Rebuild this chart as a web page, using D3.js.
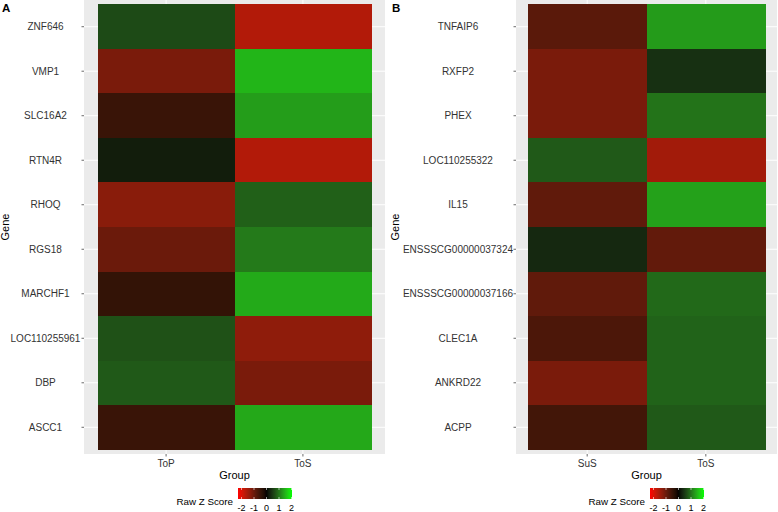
<!DOCTYPE html>
<html><head><meta charset="utf-8">
<script src="https://cdn.jsdelivr.net/npm/d3@7"></script>
<style>body{margin:0;background:#fff;} svg{display:block;font-family:"Liberation Sans",Arial,sans-serif;}</style>
</head><body><svg id="c" width="778" height="512"></svg>
<script>
// ---- data ----
const genesA = ["ZNF646","VMP1","SLC16A2","RTN4R","RHOQ","RGS18","MARCHF1","LOC110255961","DBP","ASCC1"];
const groupsA = ["ToP","ToS"];
const valuesA_ToP = [0.64,-1.14,-0.51,0.22,-1.28,-1.0,-0.45,0.70,0.77,-0.51];
const valuesA_ToS = [-1.64,1.50,1.32,-1.64,0.83,1.04,1.42,-1.33,-1.14,1.40];

const genesB = ["TNFAIP6","RXFP2","PHEX","LOC110255322","IL15","ENSSSCG00000037324","ENSSSCG00000037166","CLEC1A","ANKRD22","ACPP"];
const groupsB = ["SuS","ToS"];
const valuesB_SuS = [-0.84,-1.14,-1.14,0.77,-0.90,0.32,-0.90,-0.70,-1.14,-0.60];
const valuesB_ToS = [1.30,0.40,0.98,-1.50,1.35,-0.92,0.90,0.85,0.85,0.77];

const legendTicks = [-2,-1,0,1,2];
const zLimits = [-2.28, 2.04];

// ---- drawing ----
const svg = d3.select("#c");
const color = d3.scaleLinear().domain([zLimits[0],0,zLimits[1]])
  .range(["#ff0000","#000000","#00ff00"]).interpolate(d3.interpolateLab);

const defs = svg.append("defs");
const grad = defs.append("linearGradient").attr("id","zgrad");
d3.range(0,1.0001,0.02).forEach(t=>{
  const v = zLimits[0] + t*(zLimits[1]-zLimits[0]);
  grad.append("stop").attr("offset", (t*100)+"%").attr("stop-color", color(v));
});

function panel(opt){
  const {x0,x1,y0,y1,genes,groups,cols,labelX,titleX,letter,letterX} = opt;
  const g = svg.append("g");
  const x = d3.scaleBand().domain(groups).range([x0,x1]).paddingInner(0).paddingOuter(0.1);
  const y = d3.scaleBand().domain(genes).range([y0,y1]).paddingInner(0).paddingOuter(0.1);
  g.append("rect").attr("x",x0).attr("y",y0).attr("width",x1-x0).attr("height",y1-y0).attr("fill","#ebebeb");
  g.selectAll(".hg").data(genes).enter().append("line")
    .attr("x1",x0).attr("x2",x1).attr("y1",d=>y(d)+y.bandwidth()/2).attr("y2",d=>y(d)+y.bandwidth()/2)
    .attr("stroke","#fff").attr("stroke-width",1);
  g.selectAll(".vg").data(groups).enter().append("line")
    .attr("y1",y0).attr("y2",y1).attr("x1",d=>x(d)+x.bandwidth()/2).attr("x2",d=>x(d)+x.bandwidth()/2)
    .attr("stroke","#fff").attr("stroke-width",1);
  const cells = [];
  groups.forEach((gr,j)=>genes.forEach((ge,i)=>cells.push({g:gr,gene:ge,v:cols[j][i]})));
  g.selectAll(".tile").data(cells).enter().append("rect")
    .attr("x",d=>x(d.g)).attr("y",d=>y(d.gene)).attr("width",x.bandwidth()+0.5).attr("height",y.bandwidth()+0.5)
    .attr("fill",d=>color(d.v)).attr("shape-rendering","crispEdges");
  // y axis
  genes.forEach(ge=>{
    const cy = y(ge)+y.bandwidth()/2;
    g.append("line").attr("x1",x0-2.5).attr("x2",x0).attr("y1",cy).attr("y2",cy).attr("stroke","#444").attr("stroke-width",0.8);
    g.append("text").attr("x",labelX).attr("y",cy).attr("dy","0.35em").attr("text-anchor","middle")
      .attr("font-size",10).attr("fill","#333").text(ge);
  });
  // x axis
  groups.forEach(gr=>{
    const cx = x(gr)+x.bandwidth()/2;
    g.append("line").attr("x1",cx).attr("x2",cx).attr("y1",y1).attr("y2",y1+2.5).attr("stroke","#444").attr("stroke-width",0.8);
    g.append("text").attr("x",cx).attr("y",467).attr("text-anchor","middle")
      .attr("font-size",10).attr("fill","#333").text(gr);
  });
  const cxp = (x0+x1)/2;
  g.append("text").attr("x",cxp).attr("y",479).attr("text-anchor","middle").attr("font-size",11).attr("fill","#000").text("Group");
  g.append("text").attr("transform",`translate(${titleX},${(y0+y1)/2}) rotate(-90)`).attr("text-anchor","middle")
    .attr("font-size",11).attr("fill","#000").text("Gene");
  // legend
  const bx0 = cxp+3.5, bx1 = cxp+57.5, by0 = 488, by1 = 499;
  g.append("rect").attr("x",bx0).attr("y",by0).attr("width",bx1-bx0).attr("height",by1-by0).attr("fill","url(#zgrad)");
  const ls = d3.scaleLinear().domain(zLimits).range([bx0,bx1]);
  legendTicks.forEach(t=>{
    g.append("line").attr("x1",ls(t)).attr("x2",ls(t)).attr("y1",by0).attr("y2",by0+2).attr("stroke","#fff").attr("stroke-width",0.6);
    g.append("line").attr("x1",ls(t)).attr("x2",ls(t)).attr("y1",by1-2).attr("y2",by1).attr("stroke","#fff").attr("stroke-width",0.6);
    g.append("text").attr("x",ls(t)).attr("y",511).attr("text-anchor","middle").attr("font-size",9).attr("fill","#000").text(t);
  });
  g.append("text").attr("x",cxp-1.5).attr("y",505).attr("text-anchor","end").attr("font-size",9.8).attr("fill","#000").text("Raw Z Score");
  g.append("text").attr("x",letterX).attr("y",12).attr("font-size",11.5).attr("font-weight","bold").attr("fill","#000").text(letter);
}

panel({x0:84,x1:385,y0:0,y1:454,genes:genesA,groups:groupsA,cols:[valuesA_ToP,valuesA_ToS],
  labelX:45.5,titleX:9,letter:"A",letterX:2});
panel({x0:516,x1:777,y0:0,y1:454,genes:genesB,groups:groupsB,cols:[valuesB_SuS,valuesB_ToS],
  labelX:458,titleX:399,letter:"B",letterX:392});
</script></body></html>
